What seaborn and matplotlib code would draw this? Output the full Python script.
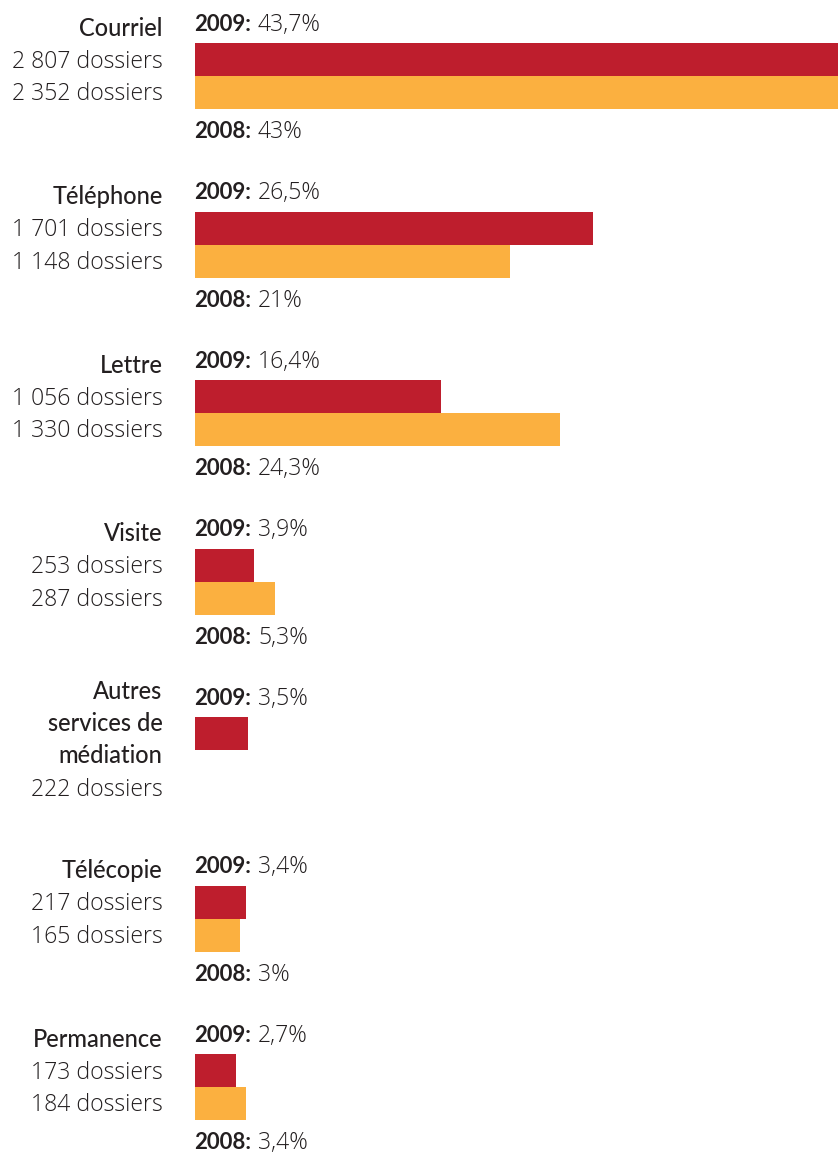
import textwrap

import numpy as np
import pandas as pd
import matplotlib
matplotlib.use("Agg")
import matplotlib.pyplot as plt
import seaborn as sns

# --- data -------------------------------------------------------------
categories = ["Courriel", "Téléphone", "Lettre", "Visite",
              "Autres services de médiation", "Télécopie", "Permanence"]
years = ["2009", "2008"]
pct_2009 = [43.7, 26.5, 16.4, 3.9, 3.5, 3.4, 2.7]
pct_2008 = [43.0, 21.0, 24.3, 5.3, np.nan, 3.0, 3.4]
dossiers_2009 = [2807, 1701, 1056, 253, 222, 217, 173]
dossiers_2008 = [2352, 1148, 1330, 287, None, 165, 184]

RED = "#BE1E2D"
ORANGE = "#FBB040"
INK = "#231F20"

df = pd.DataFrame({
    "canal": categories * 2,
    "annee": [years[0]] * len(categories) + [years[1]] * len(categories),
    "pct": pct_2009 + pct_2008,
})


def fmt_pct(v):
    s = f"{v:.1f}".replace(".", ",")
    if s.endswith(",0"):
        s = s[:-2]
    return s + "%"


def fmt_count(n):
    return f"{n:,}".replace(",", " ") + " dossiers"


# --- figure -------------------------------------------------------------
sns.set_theme(style="white")
plt.rcParams["font.family"] = ["Lato", "DejaVu Sans"]
LIGHT_FAMILY = ["Open Sans", "Lato", "DejaVu Sans"]

W, H = 838, 1158
fig = plt.figure(figsize=(W / 100, H / 100), dpi=100)
ax = fig.add_axes([0, 0, 1, 1])

BAR_WIDTH = 0.392
sns.barplot(data=df, y="canal", x="pct", hue="annee", hue_order=years,
            order=categories, palette=[RED, ORANGE], orient="h",
            width=BAR_WIDTH, dodge=True, errorbar=None, saturation=1,
            linewidth=0, legend=False, ax=ax)

# category pitch ~168.5 px, first group boundary at 76 px from the top
pitch_px = 168.5
first_px = 76.2
ax.set_xlim(-195 / 15, (W - 195) / 15)
ax.set_ylim((H - first_px) / pitch_px, -first_px / pitch_px)
ax.axis("off")

FS_TEXT = 16.6
FS_NAME = 17
FS_YEAR = 16
half = BAR_WIDTH / 4  # centre offset of each dodged bar

renderer = fig.canvas.get_renderer()

for i, cat in enumerate(categories):
    y09 = i - half
    y08 = i + half

    # left block: name lines then dossier counts
    name_lines = textwrap.wrap(cat, width=12)
    count_lines = [fmt_count(dossiers_2009[i])]
    if dossiers_2008[i] is not None:
        count_lines.append(fmt_count(dossiers_2008[i]))
    n = len(name_lines) + len(count_lines)
    step = 32.3
    start = -24 - 11 * (n - 3)
    for k, line in enumerate(name_lines + count_lines):
        is_name = k < len(name_lines)
        if is_name:
            kw = dict(fontsize=FS_NAME, fontweight="medium")
        else:
            kw = dict(fontsize=FS_TEXT, fontweight="light",
                      family=LIGHT_FAMILY)
        ax.annotate(line, xy=(0, y09), xycoords="data",
                    xytext=(-32.5, -(start + k * step)),
                    textcoords="offset pixels", ha="right", va="baseline",
                    color=INK, **kw)

    # value labels above (2009) and below (2008) the bars
    specs = [(years[0], pct_2009[i], y09, 29)]
    if not np.isnan(pct_2008[i]):
        specs.append((years[1], pct_2008[i], y08, -45.6))
    for yr, val, yc, dy in specs:
        head = ax.annotate(yr + ":", xy=(0, yc), xycoords="data",
                           xytext=(-1, dy), textcoords="offset pixels",
                           ha="left", va="baseline", fontsize=FS_YEAR,
                           color=INK, fontweight="bold")
        head_w = head.get_window_extent(renderer).width
        ax.annotate(fmt_pct(val), xy=(0, yc), xycoords="data",
                    xytext=(-1 + head_w + 7, dy),
                    textcoords="offset pixels",
                    ha="left", va="baseline", fontsize=FS_TEXT, color=INK,
                    fontweight="light", family=LIGHT_FAMILY)

fig.savefig("out.png", dpi=100, facecolor="white")
